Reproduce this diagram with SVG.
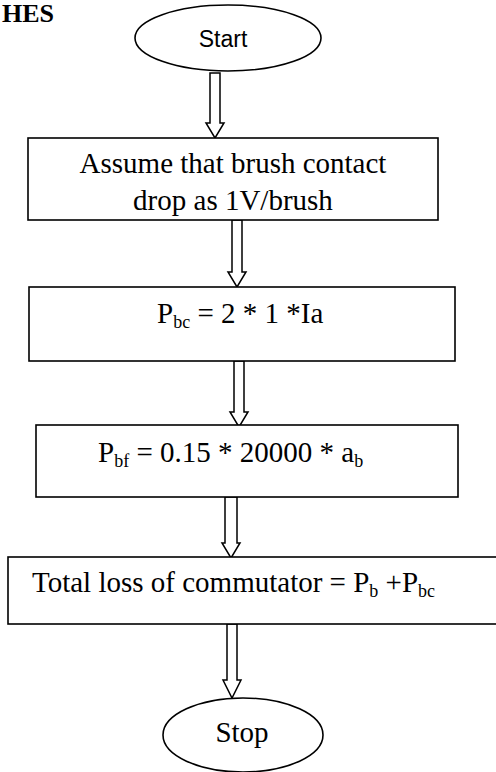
<svg xmlns="http://www.w3.org/2000/svg" width="496" height="772" viewBox="0 0 496 772">
  <style>
    .shape { fill: #fff; stroke: #000; stroke-width: 1.6; }
    .arrow { fill: #fff; stroke: #000; stroke-width: 1.5; stroke-linejoin: miter; }
    .serif { font-family: "Liberation Serif", "Times New Roman", serif; font-size: 29px; fill: #000; }
    .sans { font-family: "Liberation Sans", Arial, sans-serif; font-size: 23px; fill: #000; }
    .sub { font-size: 18px; }
  </style>

  <!-- page heading fragment -->
  <text x="2" y="22" font-family="Liberation Serif, serif" font-weight="bold" font-size="26" fill="#000">HES</text>

  <!-- connectors: hollow block arrows -->
  <g id="connectors">
    <path class="arrow" d="M210,73 V123 H206 L215,138 L224,123 H220 V73 Z"/>
    <path class="arrow" d="M232,220 V272 H228 L237,287 L246,272 H242 V220 Z"/>
    <path class="arrow" d="M234,361 V412 H230 L239,427 L248,412 H244 V361 Z"/>
    <path class="arrow" d="M225,497 V543 H222 L231,558 L240,543 H237 V497 Z"/>
    <path class="arrow" d="M227,624 V680 H223 L232,698 L241,680 H237 V624 Z"/>
  </g>

  <g id="start">
    <ellipse class="shape" cx="228" cy="38" rx="93" ry="33"/>
    <text class="sans" x="223" y="47" text-anchor="middle">Start</text>
  </g>

  <g id="assume">
    <rect class="shape" x="28" y="138" width="410" height="82"/>
    <text class="serif" x="233" y="173" text-anchor="middle">Assume that brush contact</text>
    <text class="serif" x="233" y="210" text-anchor="middle">drop as 1V/brush</text>
  </g>

  <g id="pbc">
    <rect class="shape" x="29" y="287" width="426" height="74"/>
    <text class="serif" x="157" y="323">P<tspan class="sub" dy="5">bc</tspan><tspan dy="-5"> = 2 * 1 *Ia</tspan></text>
  </g>

  <g id="pbf">
    <rect class="shape" x="36" y="425" width="422" height="72"/>
    <text class="serif" x="98" y="462">P<tspan class="sub" dy="5">bf</tspan><tspan dy="-5">  = 0.15 * 20000 * a</tspan><tspan class="sub" dy="5">b</tspan></text>
  </g>

  <g id="total">
    <rect class="shape" x="8" y="557" width="500" height="67"/>
    <text class="serif" x="32" y="592">Total loss of commutator = P<tspan class="sub" dy="5">b</tspan><tspan dy="-5"> +P</tspan><tspan class="sub" dy="5">bc</tspan></text>
  </g>

  <g id="stop">
    <ellipse class="shape" cx="243" cy="735" rx="80" ry="37"/>
    <text class="serif" x="242" y="742" text-anchor="middle">Stop</text>
  </g>
</svg>
